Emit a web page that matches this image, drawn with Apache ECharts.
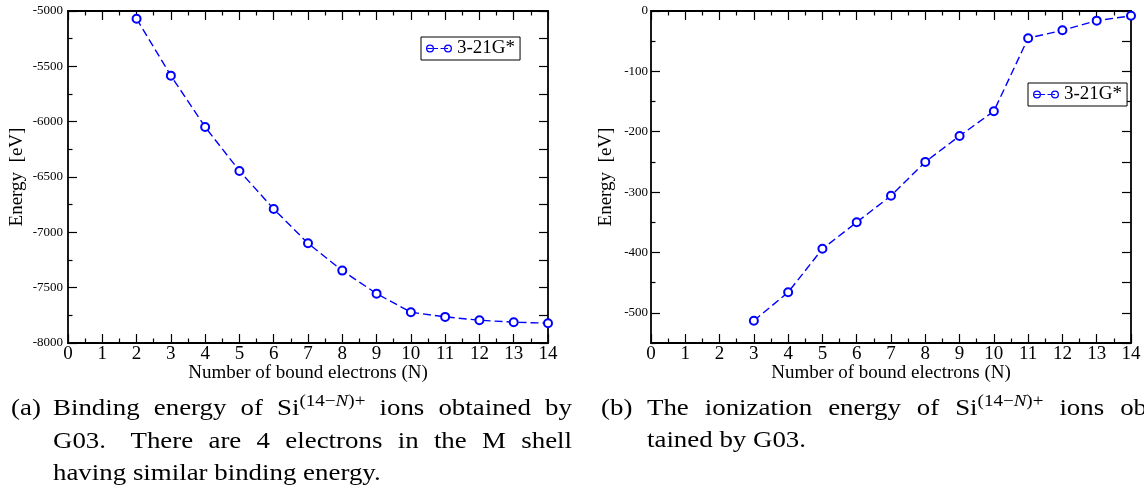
<!DOCTYPE html>
<html><head><meta charset="utf-8">
<script src="https://cdn.jsdelivr.net/npm/echarts@6/dist/echarts.min.js"></script>
<style>html,body{margin:0;padding:0;background:#fff}#c{width:1144px;height:491px}</style>
</head><body><div id="c"></div>
<script>
// ---------- data ----------
const seriesName = '3-21G*';
const electronsA = [2, 3, 4, 5, 6, 7, 8, 9, 10, 11, 12, 13, 14];
const bindingEnergy = [-5070, -5584, -6048, -6445, -6789, -7099, -7346, -7554, -7722, -7764, -7794, -7812, -7821];
const electronsB = [3, 4, 5, 6, 7, 8, 9, 10, 11, 12, 13, 14];
const ionizationEnergy = [-513, -466, -394, -350, -306, -250, -207, -166, -45, -32, -16, -8];
const yTicksB = [-500, -400, -300, -200, -100, 0];
const yMinorTicksB = [-550, -450, -350, -250, -150, -50];
const xName = 'Number of bound electrons (N)';
const yName = 'Energy  [eV]';
const captionA = [
  ['Binding', 'energy', 'of', 'Si^(14−N)+', 'ions', 'obtained', 'by'],
  ['G03.', 'There', 'are', '4', 'electrons', 'in', 'the', 'M', 'shell'],
  ['having', 'similar', 'binding', 'energy.']
];
const captionB = [
  ['The', 'ionization', 'energy', 'of', 'Si^(14−N)+', 'ions', 'ob-'],
  ['tained', 'by', 'G03.']
];

// ---------- styling ----------
const FF = '"Liberation Serif", "Times New Roman", serif';
const BLUE = '#0000ff';
const chart = echarts.init(document.getElementById('c'), null, {renderer: 'canvas'});

const axisLine = {show: true, onZero: false, lineStyle: {color: '#000', width: 1.8}};
const tickStyle = {color: '#000', width: 1.2};
const plainNum = v => String(v);

function xAxisDef(grid, pos, showLabels) {
  return {
    type: 'value', gridIndex: grid, position: pos, min: 0, max: 14, interval: 1,
    axisLine: axisLine,
    axisTick: {show: true, inside: true, length: 9, lineStyle: tickStyle},
    minorTick: {show: true, splitNumber: 2, length: 4.5, lineStyle: tickStyle},
    splitLine: {show: false}, minorSplitLine: {show: false},
    axisLabel: {show: showLabels, margin: 2, color: '#000', fontFamily: FF, fontSize: 19, formatter: plainNum},
    name: showLabels ? xName : '', nameLocation: 'middle', nameGap: 21, nameMoveOverlap: false,
    nameTextStyle: {color: '#000', fontFamily: FF, fontSize: 19}
  };
}

const xAxes = [xAxisDef(0, 'bottom', true), xAxisDef(0, 'top', false),
               xAxisDef(1, 'bottom', true), xAxisDef(1, 'top', false)];

const yAxes = [
  { // left chart, left
    type: 'value', gridIndex: 0, position: 'left', min: -8000, max: -5000, interval: 500,
    axisLine: axisLine,
    axisTick: {show: true, inside: true, length: 9, lineStyle: tickStyle},
    minorTick: {show: true, splitNumber: 2, length: 4.5, lineStyle: tickStyle},
    splitLine: {show: false},
    axisLabel: {margin: 5, color: '#000', fontFamily: FF, fontSize: 13, formatter: plainNum},
    name: yName, nameLocation: 'middle', nameGap: 41, nameMoveOverlap: false,
    nameTextStyle: {color: '#000', fontFamily: FF, fontSize: 19}
  },
  { // left chart, right
    type: 'value', gridIndex: 0, position: 'right', min: -8000, max: -5000, interval: 250,
    axisLine: axisLine,
    axisTick: {show: true, inside: true, length: 9, lineStyle: tickStyle},
    splitLine: {show: false}, axisLabel: {show: false}
  },
  { // right chart, left (labels + major ticks)
    type: 'value', gridIndex: 1, position: 'left', min: -550, max: 0,
    axisLine: axisLine,
    axisTick: {show: true, inside: true, length: 9, lineStyle: tickStyle, customValues: yTicksB},
    splitLine: {show: false},
    axisLabel: {margin: 3, color: '#000', fontFamily: FF, fontSize: 13, customValues: yTicksB, formatter: plainNum},
    name: yName, nameLocation: 'middle', nameGap: 35, nameMoveOverlap: false,
    nameTextStyle: {color: '#000', fontFamily: FF, fontSize: 19}
  },
  { // right chart, left minor ticks
    type: 'value', gridIndex: 1, position: 'left', min: -550, max: 0,
    axisLine: {show: false},
    axisTick: {show: true, inside: true, length: 4.5, lineStyle: tickStyle, customValues: yMinorTicksB},
    splitLine: {show: false}, axisLabel: {show: false}
  },
  { // right chart, right
    type: 'value', gridIndex: 1, position: 'right', min: -550, max: 0, interval: 50,
    axisLine: axisLine,
    axisTick: {show: true, inside: true, length: 9, lineStyle: tickStyle},
    splitLine: {show: false}, axisLabel: {show: false}
  }
];

const lineSeries = (xi, yi, xs, ys) => ({
  name: seriesName, type: 'line', xAxisIndex: xi, yAxisIndex: yi,
  data: xs.map((x, i) => [x, ys[i]]),
  symbol: 'emptyCircle', symbolSize: 8,
  itemStyle: {color: BLUE, borderWidth: 1.4},
  lineStyle: {color: BLUE, width: 1.4, type: [8, 4]},
  emphasis: {disabled: true}, silent: true
});

const legendIcon = 'path://' +
  'M0,4A4,4,0,1,1,8,4A4,4,0,1,1,0,4Z M1.3,4A2.7,2.7,0,1,0,6.7,4A2.7,2.7,0,1,0,1.3,4Z' +
  'M1.5,3.4L6.5,3.4L6.5,4.6L1.5,4.6Z M8,3.4L12,3.4L12,4.6L8,4.6Z' +
  'M14.5,3.4L18,3.4L18,4.6L14.5,4.6Z' +
  'M18,4A4,4,0,1,1,26,4A4,4,0,1,1,18,4Z M19.3,4A2.7,2.7,0,1,0,24.7,4A2.7,2.7,0,1,0,19.3,4Z' +
  'M19.5,3.4L22,3.4L22,4.6L19.5,4.6Z';

const legendDef = (left, top) => ({
  data: [seriesName], left: left, top: top, orient: 'horizontal',
  selectedMode: false, icon: legendIcon, itemWidth: 26, itemHeight: 8,
  itemStyle: {color: BLUE, borderWidth: 0},
  padding: [2, 5, 2, 5], borderColor: '#000', borderWidth: 1, backgroundColor: '#fff',
  textStyle: {color: '#000', fontFamily: FF, fontSize: 19}
});

// ---------- captions (justified like LaTeX) ----------
const CAP_FS = 24, SUP_FS = 17, SX = 1.12;
const capFont = CAP_FS + 'px ' + FF;
const supFont = SUP_FS + 'px ' + FF;
const supItFont = 'italic ' + SUP_FS + 'px ' + FF;
const mctx = document.createElement('canvas').getContext('2d');
function tw(t, f) { mctx.font = f; return mctx.measureText(t).width * SX; }
function wordWidth(word) {
  if (word.indexOf('^') < 0) return tw(word, capFont);
  const [base, sup] = word.split('^');
  const parts = sup.split('N');
  return tw(base, capFont) + tw(parts[0], supFont) + tw('N', supItFont) + tw(parts[1], supFont);
}
function midY(baseline, fs) { return baseline - 0.3375 * fs; }
function txt(t, f, x, y) {
  return {type: 'text', x: x, y: y, scaleX: SX, silent: true,
    style: {text: t, font: f, fill: '#000', align: 'left', verticalAlign: 'middle'}};
}
function wordElems(word, x, baseline) {
  if (word.indexOf('^') < 0) return [txt(word, capFont, x, midY(baseline, CAP_FS))];
  const [base, sup] = word.split('^');
  const parts = sup.split('N');
  const els = [txt(base, capFont, x, midY(baseline, CAP_FS))];
  let sx = x + tw(base, capFont);
  const sb = baseline - 10;
  [[parts[0], supFont], ['N', supItFont], [parts[1], supFont]].forEach(([t, f]) => {
    els.push(txt(t, f, sx, midY(sb, SUP_FS)));
    sx += tw(t, f);
  });
  return els;
}
function captionElems(label, labelX, textX, right, baselines, lines, justifyCount) {
  let els = [txt(label, capFont, labelX, midY(baselines[0], CAP_FS))];
  const space = tw(' ', capFont);
  lines.forEach((words, li) => {
    const widths = words.map(wordWidth);
    const total = widths.reduce((a, b) => a + b, 0);
    const weights = words.slice(0, -1).map(w => /\.$/.test(w) ? 1.6 : 1);
    const wsum = weights.reduce((a, b) => a + b, 0);
    const unit = li < justifyCount ? (right - textX - total) / wsum : space;
    let x = textX;
    words.forEach((w, i) => {
      els = els.concat(wordElems(w, x, baselines[li]));
      x += widths[i] + (i < weights.length ? weights[i] * unit : 0);
    });
  });
  return els;
}

const graphics = [].concat(
  captionElems('(a)', 11, 53, 572, [417, 450, 482], captionA, 2),
  captionElems('(b)', 601, 647, 1156, [417, 449], captionB, 1)
);

chart.setOption({
  animation: false,
  backgroundColor: '#fff',
  grid: [
    {left: 68, top: 11, width: 480, height: 332, outerBoundsMode: 'none'},
    {left: 651, top: 11, width: 480, height: 332, outerBoundsMode: 'none'}
  ],
  xAxis: xAxes,
  yAxis: yAxes,
  legend: [legendDef(421, 37), legendDef(1028, 83)],
  series: [lineSeries(0, 0, electronsA, bindingEnergy), lineSeries(2, 2, electronsB, ionizationEnergy)],
  graphic: graphics
});
</script></body></html>
